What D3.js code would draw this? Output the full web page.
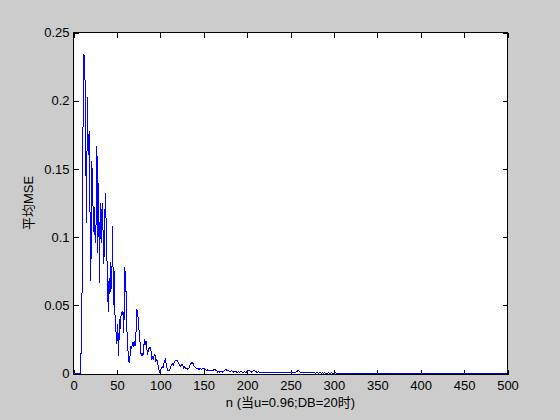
<!DOCTYPE html>
<html><head><meta charset="utf-8">
<script src="https://cdn.jsdelivr.net/npm/d3@7"></script>
<style>
html,body{margin:0;padding:0;background:#cccccc;}
svg{display:block;}
text{font-family:"Liberation Sans",Arial,"Noto Sans CJK SC",sans-serif;}
</style>
</head><body>
<svg id="c" width="560" height="420"></svg>
<script>
// MSE for n = 0..100
const mseEarly = [
0,0,0,0,0,0,0,0,0,0.022,
0.068,0.185,0.234,0.231,0.170,0.110,0.203,0.160,0.178,0.120,
0.068,0.156,0.140,0.104,0.122,0.096,0.110,0.167,0.088,0.140,
0.066,0.125,0.096,0.125,0.105,0.080,0.115,0.132,0.092,0.076,
0.045,0.070,0.058,0.082,0.062,0.108,0.050,0.075,0.036,0.030,
0.022,0.036,0.013,0.040,0.033,0.045,0.043,0.046,0.030,0.078,
0.070,0.050,0.020,0.016,0.008,0.012,0.020,0.018,0.023,0.021,
0.024,0.020,0.030,0.047,0.044,0.036,0.028,0.020,0.013,0.015,
0.013,0.020,0.025,0.022,0.024,0.014,0.016,0.019,0.018,0.019,
0.011,0.012,0.010,0.014,0.013,0.009,0.010,0.008,0.004,0.001,
0.001];
// MSE for n = 101..200
const mseMid = [
0.004,0.005,0.004,0.007,0.009,0.0105,0.006,0.003,0.002,0.002,
0.003,0.005,0.006,0.007,0.006,0.008,0.009,0.0095,0.0098,0.009,
0.008,0.006,0.005,0.006,0.007,0.006,0.004,0.005,0.004,0.004,
0.003,0.004,0.004,0.006,0.007,0.008,0.008,0.007,0.005,0.005,
0.004,0.004,0.004,0.003,0.003,0.004,0.003,0.003,0.004,0.004,
0.003,0.003,0.002,0.003,0.002,0.002,0.002,0.002,0.002,0.002,
0.002,0.003,0.003,0.002,0.002,0.001,0.0015,0.001,0.0015,0.001,
0.0015,0.001,0.0015,0.002,0.003,0.003,0.002,0.0025,0.002,0.0015,
0.0015,0.002,0.0015,0.001,0.0015,0.001,0.0015,0.001,0.001,0.0015,
0.001,0.001,0.0015,0.001,0.001,0.001,0.0015,0.001,0.001,0.0015];
// MSE for n = 201..500
const mseTail = [
0.002,0.0025,0.002,0.0015,0.001,0.0015,0.002,0.0025,0.002,0.0015,0.001,0.001,0.0012,0.001,0.0008,0.001,0.0009,0.0008,0.001,0.0008,
0.0008,0.0007,0.0009,0.0008,0.0007,0.0008,0.0006,0.0007,0.0008,0.0007,0.0006,0.0007,0.0006,0.0008,0.0007,0.0006,0.0007,0.0006,0.0005,0.0006,
0.0007,0.0006,0.0005,0.0006,0.0007,0.0006,0.0005,0.0006,0.0005,0.0006,0.0007,0.0008,0.0007,0.0006,0.0008,0.001,0.0014,0.0018,0.0022,0.0018,
0.0012,0.0008,0.0006,0.0005,0.0006,0.0005,0.0004,0.0005,0.0006,0.0005,0.0004,0.0005,0.0004,0.0005,0.0004,0.0004,0.0005,0.0004,0.0003,0.0004,
0.0004,0.0003,0.0004,0.0005,0.0004,0.0003,0.0004,0.0003,0.0004,0.0003,0.0003,0.0004,0.0003,0.0004,0.0003,0.0003,0.0004,0.0003,0.0003,0.0003,
0.0003,0.0004,0.0003,0.0003,0.0002,0.0003,0.0003,0.0002,0.0003,0.0003,0.0002,0.0003,0.0002,0.0003,0.0003,0.0002,0.0003,0.0002,0.0002,0.0003,
0.0002,0.0003,0.0002,0.0002,0.0003,0.0002,0.0002,0.0003,0.0002,0.0002,0.0002,0.0003,0.0002,0.0002,0.0002,0.0003,0.0002,0.0002,0.0002,0.0002,
0.0003,0.0002,0.0002,0.0002,0.0002,0.0003,0.0002,0.0002,0.0002,0.0002,0.0002,0.0003,0.0002,0.0002,0.0002,0.0002,0.0002,0.0002,0.0003,0.0002,
0.0002,0.0002,0.0002,0.0002,0.0002,0.0003,0.0002,0.0002,0.0002,0.0002,0.0002,0.0002,0.0002,0.0003,0.0002,0.0002,0.0002,0.0002,0.0002,0.0002,
0.0002,0.0002,0.0003,0.0002,0.0002,0.0002,0.0002,0.0002,0.0002,0.0002,0.0002,0.0002,0.0003,0.0002,0.0002,0.0002,0.0002,0.0002,0.0002,0.0002,
0.0002,0.0002,0.0002,0.0002,0.0002,0.0002,0.0003,0.0002,0.0002,0.0002,0.0002,0.0002,0.0002,0.0002,0.0002,0.0002,0.0002,0.0002,0.0002,0.0002,
0.0002,0.0002,0.0002,0.0002,0.0002,0.0002,0.0002,0.0002,0.0002,0.0003,0.0002,0.0002,0.0002,0.0002,0.0002,0.0002,0.0002,0.0002,0.0002,0.0002,
0.0002,0.0002,0.0002,0.0002,0.0002,0.0002,0.0002,0.0002,0.0002,0.0002,0.0002,0.0002,0.0002,0.0002,0.0002,0.0002,0.0002,0.0002,0.0002,0.0002,
0.0002,0.0002,0.0002,0.0002,0.0002,0.0002,0.0002,0.0002,0.0002,0.0002,0.0002,0.0002,0.0002,0.0002,0.0002,0.0002,0.0002,0.0002,0.0002,0.0002,
0.0002,0.0002,0.0002,0.0002,0.0002,0.0002,0.0002,0.0002,0.0002,0.0002,0.0002,0.0002,0.0002,0.0002,0.0002,0.0002,0.0002,0.0002,0.0002,0.0002];

const xTicks = [0,50,100,150,200,250,300,350,400,450,500];
const yTicks = [0,0.05,0.1,0.15,0.2,0.25];
const yTickLabels = ["0","0.05","0.1","0.15","0.2","0.25"];
const xLabel = "n (当u=0.96;DB=20时)";
const yLabel = "平均MSE";

const mse = mseEarly.concat(mseMid, mseTail);
const nVals = d3.range(mse.length);

const svg = d3.select("#c");
const L = 73.5, R = 507.5, T = 32.5, B = 373.5;
const x = d3.scaleLinear().domain([0,500]).range([L,R]);
const y = d3.scaleLinear().domain([0,0.25]).range([B,T]);

svg.append("rect").attr("x",L).attr("y",T).attr("width",R-L).attr("height",B+1-T)
  .attr("fill","#ffffff");

const fs = "13px";
function styleAxis(g, labels){
  g.select(".domain").remove();
  g.selectAll(".tick line").attr("stroke","#000").attr("shape-rendering","crispEdges");
  g.selectAll(".tick text").attr("fill","#000").style("font-size",fs)
   .style("font-family",'"Liberation Sans",Arial,sans-serif');
  if(!labels) g.selectAll(".tick text").remove();
}

svg.append("g").attr("transform",`translate(0,${B+1})`)
  .call(d3.axisBottom(x).tickValues(xTicks).tickSizeInner(-5).tickSizeOuter(0).tickPadding(6).tickFormat(d3.format("d")))
  .call(g=>styleAxis(g,true));
svg.append("g").attr("transform",`translate(0,${T})`)
  .call(d3.axisTop(x).tickValues(xTicks).tickSizeInner(-5).tickSizeOuter(0))
  .call(g=>styleAxis(g,false));
svg.append("g").attr("transform",`translate(${L},0)`)
  .call(d3.axisLeft(y).tickValues(yTicks).tickSizeInner(-5).tickSizeOuter(0).tickPadding(4)
        .tickFormat((d,i)=>yTickLabels[i]))
  .call(g=>styleAxis(g,true));
svg.append("g").attr("transform",`translate(${R},0)`)
  .call(d3.axisRight(y).tickValues(yTicks).tickSizeInner(-5).tickSizeOuter(0))
  .call(g=>styleAxis(g,false));

const line = d3.line().x((d,i)=>x(nVals[i])).y(d=>y(d));
svg.append("path").datum(mse).attr("d",line)
  .attr("fill","none").attr("stroke","#0000ff").attr("stroke-width",1)
  .attr("shape-rendering","crispEdges");

svg.append("rect").attr("x",L).attr("y",T).attr("width",R-L).attr("height",B+1-T)
  .attr("fill","none").attr("stroke","#000").attr("stroke-width",1).attr("shape-rendering","crispEdges");

svg.append("text").attr("x",(L+R)/2).attr("y",407).attr("text-anchor","middle")
  .style("font-size",fs).attr("fill","#000").text(xLabel);
svg.append("text").attr("transform",`translate(33,${(T+B)/2}) rotate(-90)`)
  .attr("text-anchor","middle").style("font-size",fs).attr("fill","#000").text(yLabel);
</script>
</body></html>
